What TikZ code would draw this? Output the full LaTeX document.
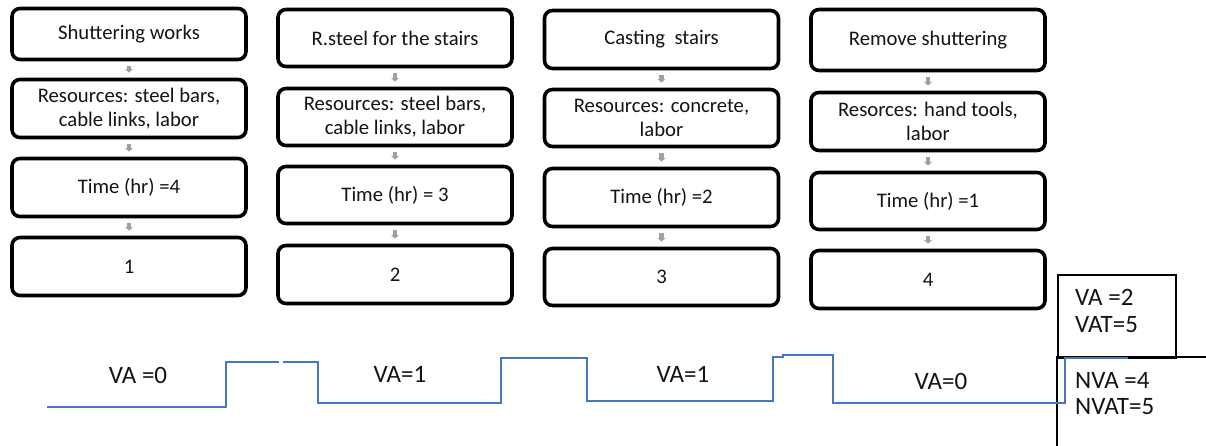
\documentclass[tikz,border=0pt]{standalone}
\usepackage{fontspec}
\setmainfont{Carlito}
\usetikzlibrary{arrows.meta}
\definecolor{wave}{HTML}{4A76C0}
\definecolor{arrowgray}{HTML}{A0A0A0}
\definecolor{ink}{HTML}{141414}

\begin{document}
\begin{tikzpicture}[x=1pt,y=-1pt,
  stepbox/.style={draw=black, line width=3.6pt, rounded corners=8pt,
    minimum width=234pt, inner sep=0pt, align=center, text=ink,
    font=\fontsize{20.7}{24}\selectfont},
  flow/.style={draw=arrowgray, line width=4.5pt,
    -{Triangle[width=7pt,length=3.5pt]}, shorten <=4.5pt, shorten >=5pt},
  wavepath/.style={draw=wave, line width=2.2pt, line join=miter},
  biglabel/.style={text=ink, inner sep=0pt, font=\fontsize{25}{30}\selectfont},
  tableline/.style={draw=black, line width=1.8pt},
]
\fill[white] (0,0) rectangle (1206,446);
\useasboundingbox (0,0) rectangle (1206,446);

% column 1
\node[stepbox, minimum height=51pt] (c1a) at (129,34) {Shuttering works};
\node[stepbox, minimum height=58pt] (c1b) at (129,108.5) {Resources: steel bars,\\cable links, labor};
\node[stepbox, minimum height=58pt] (c1c) at (129,187.5) {Time (hr) =4};
\node[stepbox, minimum height=58pt] (c1d) at (129,266.5) {1};

% column 2
\node[stepbox, minimum height=57pt] (c2a) at (395,38) {R.steel for the stairs};
\node[stepbox, minimum height=57pt] (c2b) at (395,117) {Resources: steel bars,\\cable links, labor};
\node[stepbox, minimum height=57pt] (c2c) at (395,195) {Time (hr) = 3};
\node[stepbox, minimum height=58pt] (c2d) at (395,274.5) {2};

% column 3
\node[stepbox, minimum height=58pt] (c3a) at (661.5,39.5) {Casting\ \ stairs};
\node[stepbox, minimum height=57pt] (c3b) at (661.5,118) {Resources: concrete,\\labor};
\node[stepbox, minimum height=58pt] (c3c) at (661.5,197.5) {Time (hr) =2};
\node[stepbox, minimum height=57pt] (c3d) at (661.5,277) {3};

% column 4
\node[stepbox, minimum height=61pt] (c4a) at (928,40) {Remove shuttering};
\node[stepbox, minimum height=58pt] (c4b) at (928,121.5) {Resorces: hand tools,\\labor};
\node[stepbox, minimum height=57pt] (c4c) at (928,201) {Time (hr) =1};
\node[stepbox, minimum height=58pt] (c4d) at (928,279.5) {4};

% small arrows between the steps
\foreach \c in {1,2,3,4}{
  \draw[flow] (c\c a) -- (c\c b);
  \draw[flow] (c\c b) -- (c\c c);
  \draw[flow] (c\c c) -- (c\c d);
}

% summary table
\node[tableline, minimum width=118pt, minimum height=83pt, anchor=north west,
      inner sep=0pt] (vacell) at (1057,274) {};
\coordinate (nvacorner) at (1057,357);
\coordinate (nvabottom) at (1057,450);
\coordinate (nvaright) at (1212,357);
\draw[tableline] (nvabottom) -- (nvacorner) -- (nvaright);

\node[biglabel, anchor=base west] (va2) at (1075,305) {VA =2};
\node[biglabel, anchor=base west] (vat) at (1075,332) {VAT=5};
\node[biglabel, anchor=base west] (nva) at (1075,388) {NVA =4};
\node[biglabel, anchor=base west] (nvat) at (1075,414) {NVAT=5};

% value-added profile
\draw[wavepath] (47,407) -- (226,407) -- (226,362) -- (279,362);
\draw[wavepath] (283,362) -- (318,362) -- (318,403) -- (501,403)
  -- (501,358) -- (587,358) -- (587,401) -- (773,401) -- (773,357)
  -- (783,357) -- (783,355) -- (833,355) -- (833,403) -- (1065,403)
  -- (1065,358) -- (1128,358);

\node[biglabel, anchor=base] (w1) at (138,383) {VA =0};
\node[biglabel, anchor=base] (w2) at (400,382) {VA=1};
\node[biglabel, anchor=base] (w3) at (683,382) {VA=1};
\node[biglabel, anchor=base] (w4) at (941,389) {VA=0};
\end{tikzpicture}
\end{document}
